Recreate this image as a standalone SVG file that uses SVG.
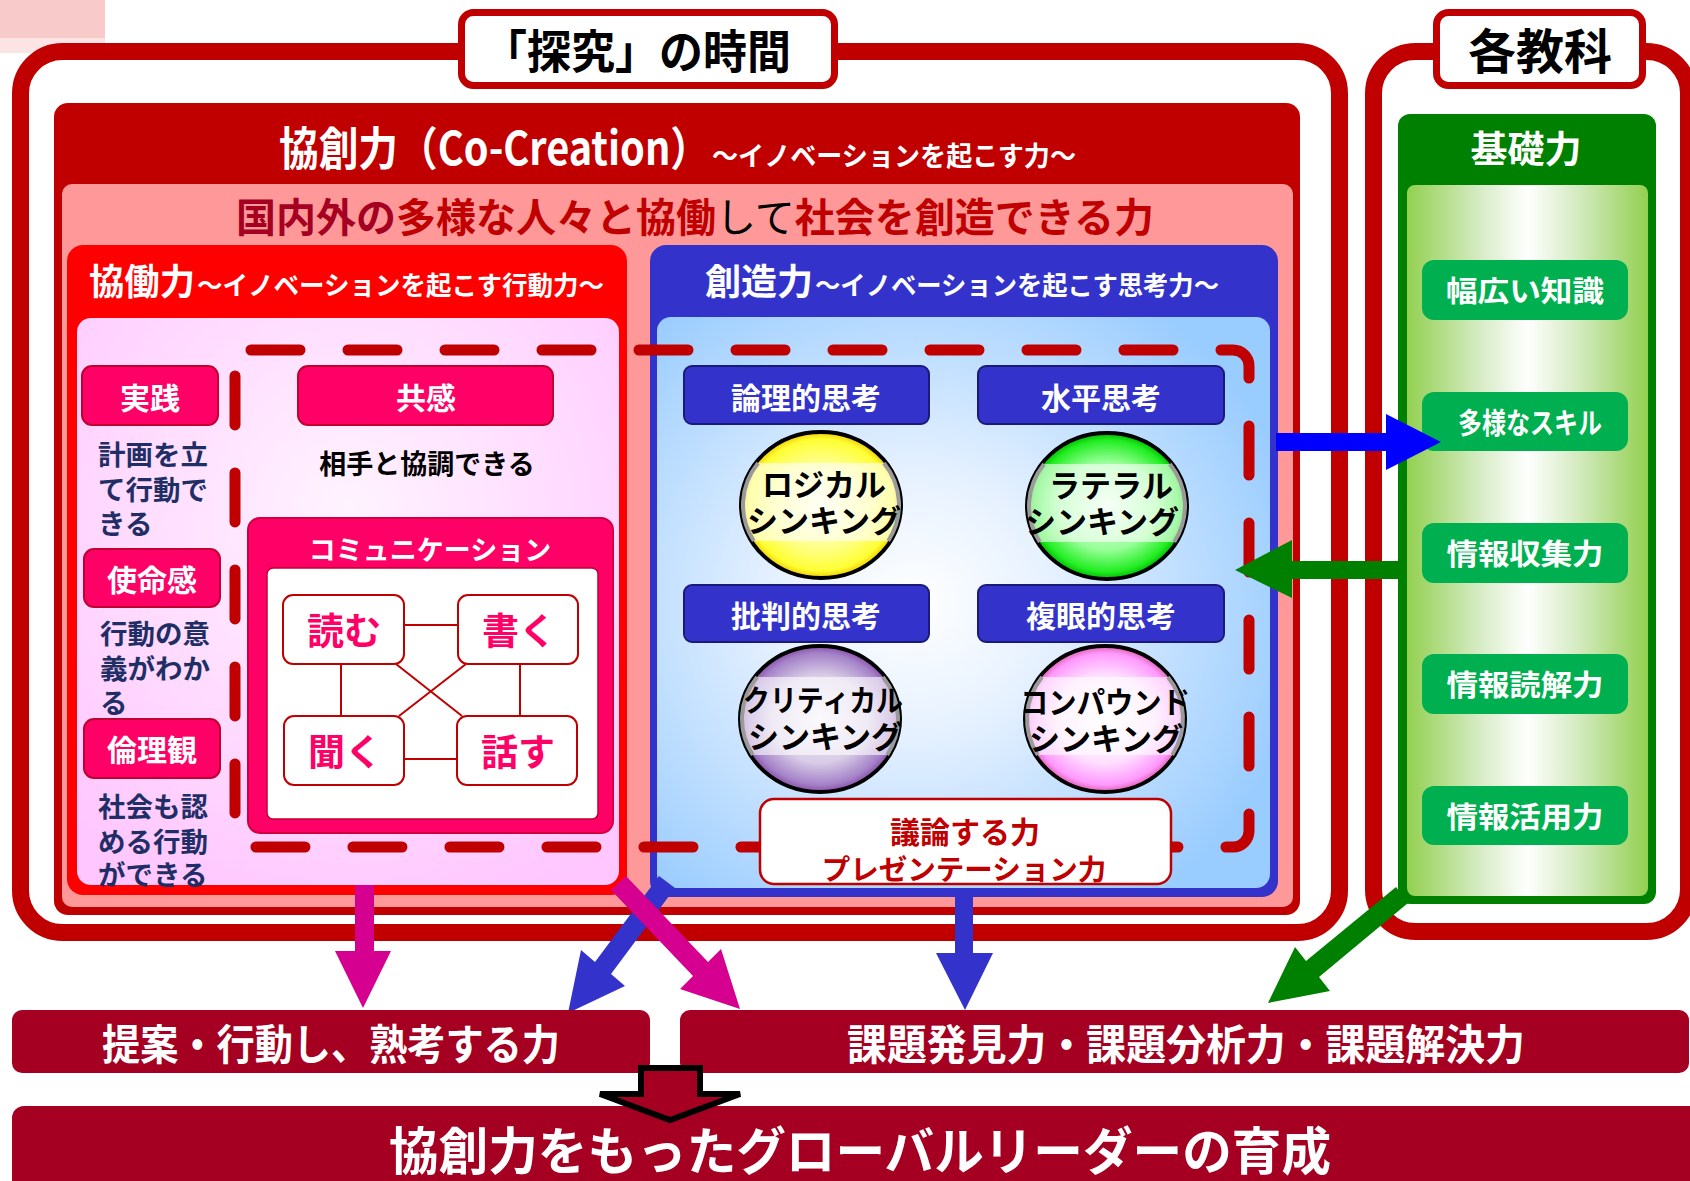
<svg xmlns="http://www.w3.org/2000/svg" width="1690" height="1181" viewBox="0 0 1690 1181">
<defs>
<style>
text { font-family: "Noto Sans CJK JP", "Noto Sans", sans-serif; font-weight: 700; }
.c { text-anchor: middle; }
.w { fill: #ffffff; }
.frame { fill: #ffffff; stroke: #c00000; stroke-width: 17; }
.tag { fill: #ffffff; stroke: #c00000; stroke-width: 7; }
.pk { fill: #ff0066; stroke: #c00030; stroke-width: 2; }
.bh { fill: #3333cc; stroke: #1a1a7a; stroke-width: 2; }
.gi { fill: #00b050; }
.cb { fill: #ffffff; stroke: #c00000; stroke-width: 2; }
.desc { fill: #1f2f66; font-size: 27.5px; }
.bot { fill: #a50021; }
.ln { stroke: #c00000; stroke-width: 2; fill: none; }
.ball { stroke: #000000; stroke-width: 4; }
.band { fill: #ffffff; opacity: 0.6; }
.bring { fill: none; stroke: #9a9a9a; stroke-width: 4; }
</style>
<radialGradient id="gp" cx="0.5" cy="0.35" r="0.75"><stop offset="0" stop-color="#fff4ff"/><stop offset="1" stop-color="#ffc6ff"/></radialGradient>
<radialGradient id="gb" cx="0.42" cy="0.5" r="0.65"><stop offset="0" stop-color="#ffffff"/><stop offset="0.35" stop-color="#e6f1ff"/><stop offset="1" stop-color="#99ccff"/></radialGradient>
<linearGradient id="gg" x1="0" y1="0" x2="1" y2="0"><stop offset="0" stop-color="#92d050"/><stop offset="0.3" stop-color="#d6ebc4"/><stop offset="0.5" stop-color="#ffffff"/><stop offset="0.7" stop-color="#d6ebc4"/><stop offset="1" stop-color="#92d050"/></linearGradient>
<radialGradient id="cy" cx="0.5" cy="0.5" r="0.5"><stop offset="0" stop-color="#ffffe8"/><stop offset="0.6" stop-color="#ffff88"/><stop offset="0.9" stop-color="#ffff33"/><stop offset="1" stop-color="#f0cc00"/></radialGradient>
<radialGradient id="cg" cx="0.5" cy="0.5" r="0.5"><stop offset="0" stop-color="#eaffea"/><stop offset="0.6" stop-color="#99ff99"/><stop offset="0.9" stop-color="#22ee22"/><stop offset="1" stop-color="#00bb00"/></radialGradient>
<radialGradient id="cv" cx="0.5" cy="0.5" r="0.5"><stop offset="0" stop-color="#f4f0f8"/><stop offset="0.6" stop-color="#d8cce6"/><stop offset="0.9" stop-color="#a482c8"/><stop offset="1" stop-color="#8a4fa8"/></radialGradient>
<radialGradient id="cm" cx="0.5" cy="0.5" r="0.5"><stop offset="0" stop-color="#ffffff"/><stop offset="0.6" stop-color="#ffe0ff"/><stop offset="0.9" stop-color="#ff99ff"/><stop offset="1" stop-color="#e060b0"/></radialGradient>
<path id="band" d="M -62.9 -42 L 62.9 -42 A 78 71 0 0 1 67.2 36 L -67.2 36 A 78 71 0 0 1 -62.9 -42 Z"/>
<path id="bandring" d="M 62.9 -42 A 78 71 0 0 1 67.2 36 M -67.2 36 A 78 71 0 0 1 -62.9 -42"/>
</defs>

<g id="corner-mark">
<rect x="0" y="0" width="105" height="38" fill="#f9caca"/>
<rect x="0" y="38" width="105" height="15" fill="#fde4e4"/>
</g>

<g id="frame-tankyu">
<rect class="frame" x="20.5" y="51.5" width="1319" height="881" rx="42"/>
</g>
<g id="frame-kakukyouka">
<rect class="frame" x="1373.5" y="51.5" width="315" height="880" rx="42"/>
</g>
<g id="tag-tankyu">
<rect class="tag" x="461.5" y="12.5" width="373" height="73" rx="12"/>
<text x="637" y="68" font-size="46" class="c" fill="#000" textLength="308" lengthAdjust="spacingAndGlyphs">「探究」の時間</text>
</g>
<g id="tag-kakukyouka">
<rect class="tag" x="1436.5" y="12.5" width="206" height="73" rx="12"/>
<text x="1540" y="69" font-size="48" class="c" fill="#000">各教科</text>
</g>

<g id="kyousouryoku">
<rect x="54" y="103" width="1246" height="812" rx="14" fill="#c00000"/>
<rect x="62" y="184" width="1231" height="723" rx="10" fill="#ff9999"/>
<text x="279" y="165" font-size="46" class="w" textLength="431" lengthAdjust="spacingAndGlyphs">協創力（Co-Creation）</text>
<text x="712" y="166" font-size="27" class="w" textLength="364" lengthAdjust="spacingAndGlyphs">～イノベーションを起こす力～</text>
<text x="236" y="232" font-size="40"><tspan fill="#a50021">国内外の</tspan><tspan fill="#c00000">多様な人々と協働</tspan><tspan fill="#000000" font-weight="400">して</tspan><tspan fill="#c00000">社会を創造できる力</tspan></text>
</g>

<g id="kyoudouryoku">
<rect x="67" y="245" width="560" height="650" rx="16" fill="#ff0000"/>
<rect x="77" y="318" width="542" height="567" rx="14" fill="url(#gp)"/>
<text x="89" y="295" font-size="36" class="w" textLength="106" lengthAdjust="spacingAndGlyphs">協働力</text>
<text x="197" y="295" font-size="26" class="w" textLength="407" lengthAdjust="spacingAndGlyphs">～イノベーションを起こす行動力～</text>
</g>

<g id="souzouryoku">
<rect x="650" y="245" width="628" height="652" rx="16" fill="#3333cc"/>
<rect x="657" y="317" width="613" height="571" rx="14" fill="url(#gb)"/>
<text x="705" y="295" font-size="36" class="w" textLength="108" lengthAdjust="spacingAndGlyphs">創造力</text>
<text x="815" y="295" font-size="26" class="w" textLength="404" lengthAdjust="spacingAndGlyphs">～イノベーションを起こす思考力～</text>
</g>

<g id="jissen">
<rect class="pk" x="82" y="366" width="136" height="59" rx="10"/>
<text x="150" y="409" font-size="30" class="c w">実践</text>
<text class="desc" x="98"><tspan x="98" y="465">計画を立</tspan><tspan x="98" y="500">て行動で</tspan><tspan x="98" y="534">きる</tspan></text>
</g>
<g id="shimeikan">
<rect class="pk" x="84" y="549" width="136" height="58" rx="10"/>
<text x="152" y="591" font-size="30" class="c w">使命感</text>
<text class="desc" x="100"><tspan x="100" y="644">行動の意</tspan><tspan x="100" y="679">義がわか</tspan><tspan x="100" y="713">る</tspan></text>
</g>
<g id="rinrikan">
<rect class="pk" x="84" y="719" width="136" height="59" rx="10"/>
<text x="152" y="761" font-size="30" class="c w">倫理観</text>
<text class="desc" x="98"><tspan x="98" y="817">社会も認</tspan><tspan x="98" y="852">める行動</tspan><tspan x="98" y="885">ができる</tspan></text>
</g>

<g id="kyoukan">
<rect class="pk" x="298" y="366" width="255" height="59" rx="10"/>
<text x="426" y="409" font-size="30" class="c w">共感</text>
<text x="427" y="474" font-size="27" class="c" fill="#000">相手と協調できる</text>
</g>

<g id="communication">
<rect x="248" y="518" width="365" height="315" rx="12" fill="#ff0066" stroke="#d00040" stroke-width="2"/>
<text x="430" y="560" font-size="27" class="c w">コミュニケーション</text>
<rect x="267" y="568" width="331" height="251" rx="6" fill="#ffffff" stroke="#c00030" stroke-width="1.5"/>
</g>

<g id="comm-links">
<line class="ln" x1="404" y1="625" x2="458" y2="625"/>
<line class="ln" x1="404" y1="759" x2="457" y2="759"/>
<line class="ln" x1="341" y1="664" x2="341" y2="716"/>
<line class="ln" x1="520" y1="664" x2="520" y2="716"/>
<line class="ln" x1="396" y1="664" x2="462" y2="716"/>
<line class="ln" x1="466" y1="664" x2="399" y2="716"/>
</g>
<g id="yomu">
<rect class="cb" x="283" y="595" width="121" height="69" rx="10"/>
<text x="344" y="645" font-size="37" class="c" fill="#ff0066">読む</text>
</g>
<g id="kaku">
<rect class="cb" x="458" y="595" width="120" height="69" rx="10"/>
<text x="519" y="645" font-size="37" class="c" fill="#ff0066">書く</text>
</g>
<g id="kiku">
<rect class="cb" x="284" y="716" width="120" height="69" rx="10"/>
<text x="345" y="766" font-size="37" class="c" fill="#ff0066">聞く</text>
</g>
<g id="hanasu">
<rect class="cb" x="457" y="716" width="120" height="69" rx="10"/>
<text x="518" y="766" font-size="37" class="c" fill="#ff0066">話す</text>
</g>

<g id="ronriteki">
<rect class="bh" x="684" y="366" width="245" height="58" rx="8"/>
<text x="806" y="409" font-size="30" class="c w">論理的思考</text>
</g>
<g id="suihei">
<rect class="bh" x="978" y="366" width="246" height="58" rx="8"/>
<text x="1101" y="409" font-size="30" class="c w">水平思考</text>
</g>
<g id="hihanteki">
<rect class="bh" x="684" y="585" width="245" height="57" rx="8"/>
<text x="806" y="627" font-size="30" class="c w">批判的思考</text>
</g>
<g id="fukugan">
<rect class="bh" x="978" y="585" width="246" height="57" rx="8"/>
<text x="1101" y="627" font-size="30" class="c w">複眼的思考</text>
</g>

<g id="logical">
<ellipse class="ball" cx="821" cy="505" rx="80" ry="73" fill="url(#cy)"/>
<use href="#band" x="821" y="505" class="band"/>
<use href="#bandring" x="821" y="505" class="bring"/>
<text x="824" y="496" font-size="31" class="c" fill="#000">ロジカル</text>
<text x="824" y="532" font-size="31" class="c" fill="#000">シンキング</text>
</g>
<g id="lateral">
<ellipse class="ball" cx="1107" cy="506" rx="80" ry="73" fill="url(#cg)"/>
<use href="#band" x="1107" y="506" class="band"/>
<use href="#bandring" x="1107" y="506" class="bring"/>
<text x="1111" y="497" font-size="31" class="c" fill="#000">ラテラル</text>
<text x="1102" y="533" font-size="31" class="c" fill="#000">シンキング</text>
</g>
<g id="critical">
<ellipse class="ball" cx="820" cy="719" rx="80" ry="73" fill="url(#cv)"/>
<use href="#band" x="820" y="719" class="band"/>
<use href="#bandring" x="820" y="719" class="bring"/>
<text x="823" y="711" font-size="30" class="c" fill="#000" textLength="160" lengthAdjust="spacingAndGlyphs">クリティカル</text>
<text x="825" y="748" font-size="31" class="c" fill="#000">シンキング</text>
</g>
<g id="compound">
<ellipse class="ball" cx="1105" cy="719" rx="80" ry="73" fill="url(#cm)"/>
<use href="#band" x="1105" y="719" class="band"/>
<use href="#bandring" x="1105" y="719" class="bring"/>
<text x="1105" y="713" font-size="30" class="c" fill="#000" textLength="170" lengthAdjust="spacingAndGlyphs">コンパウンド</text>
<text x="1106" y="750" font-size="31" class="c" fill="#000">シンキング</text>
</g>

<g id="connectors">
<rect x="235" y="350" width="1014" height="497" rx="16" fill="none" stroke="#c00000" stroke-width="11" stroke-dasharray="49 48" stroke-linecap="round"/>
</g>

<g id="giron">
<rect x="760" y="799" width="411" height="85" rx="14" fill="#ffffff" stroke="#c00000" stroke-width="2.5"/>
<text x="965" y="843" font-size="30" class="c" fill="#c00000">議論する力</text>
<text x="964" y="880" font-size="28.5" class="c" fill="#c00000">プレゼンテーション力</text>
</g>

<g id="kisoryoku">
<rect x="1398" y="114" width="258" height="790" rx="12" fill="#008000"/>
<rect x="1407" y="185" width="241" height="711" rx="8" fill="url(#gg)"/>
<text x="1526" y="163" font-size="37" class="c w">基礎力</text>
</g>
<g id="habahiroi">
<rect class="gi" x="1422" y="260" width="206" height="60" rx="12"/>
<text x="1525" y="302" font-size="29" class="c w" textLength="158" lengthAdjust="spacingAndGlyphs">幅広い知識</text>
</g>
<g id="tayou">
<rect class="gi" x="1422" y="392" width="206" height="59" rx="12"/>
<text x="1530" y="434" font-size="29" class="c w" textLength="144" lengthAdjust="spacingAndGlyphs">多様なスキル</text>
</g>
<g id="shushu">
<rect class="gi" x="1422" y="523" width="206" height="60" rx="12"/>
<text x="1525" y="565" font-size="29" class="c w" textLength="157" lengthAdjust="spacingAndGlyphs">情報収集力</text>
</g>
<g id="dokkai">
<rect class="gi" x="1422" y="654" width="206" height="60" rx="12"/>
<text x="1525" y="696" font-size="29" class="c w" textLength="157" lengthAdjust="spacingAndGlyphs">情報読解力</text>
</g>
<g id="katsuyou">
<rect class="gi" x="1422" y="786" width="206" height="59" rx="12"/>
<text x="1525" y="828" font-size="29" class="c w" textLength="157" lengthAdjust="spacingAndGlyphs">情報活用力</text>
</g>

<g id="arrows">
<polygon fill="#0000ff" points="1276,433 1386,433 1386,414 1441,442 1386,470 1386,451 1276,451"/>
<polygon fill="#008000" points="1400,561 1292,561 1292,540 1235,570 1292,598 1292,579 1400,579"/>
<polygon fill="#d5008f" points="355,885 374,885 374,951 391,951 363,1008 335,951 355,951"/>
<polygon fill="#3333cc" points="675,888 611,974 625,986 568,1013 581,950 595,962 659,876"/>
<polygon fill="#d5008f" points="611,890 693,976 680,989 740,1009 721,949 708,962 626,876"/>
<polygon fill="#3333cc" points="955,895 973,895 973,953 993,953 965,1010 936,953 955,953"/>
<polygon fill="#008000" points="1408,903 1319,977 1330,991 1268,1003 1295,947 1306,961 1396,887"/>
</g>

<g id="teian">
<rect class="bot" x="12" y="1010" width="638" height="63" rx="10"/>
<text x="331" y="1060" font-size="42" class="c w" textLength="458" lengthAdjust="spacingAndGlyphs">提案・行動し、熟考する力</text>
</g>
<g id="kadai">
<rect class="bot" x="680" y="1010" width="1009" height="63" rx="10"/>
<text x="847" y="1060" font-size="42" class="w" textLength="678" lengthAdjust="spacingAndGlyphs">課題発見力・課題分析力・課題解決力</text>
</g>
<g id="leader">
<rect class="bot" x="12" y="1106" width="1700" height="90" rx="12"/>
<text x="860" y="1170" font-size="51" class="c w" textLength="942" lengthAdjust="spacingAndGlyphs">協創力をもったグローバルリーダーの育成</text>
</g>
<g id="hollow-arrow">
<polygon points="641,1068 700,1068 700,1094 740,1094 670,1120 600,1094 641,1094" fill="#a50021" stroke="#000000" stroke-width="6" stroke-linejoin="miter"/>
</g>
</svg>
